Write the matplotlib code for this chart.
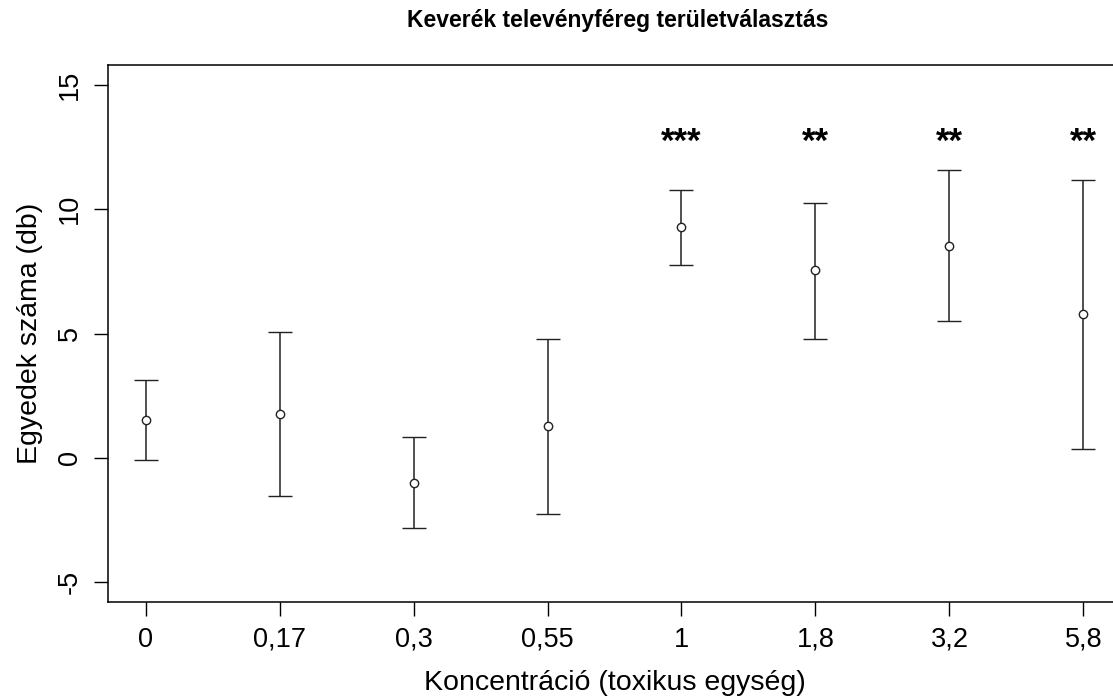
import matplotlib
matplotlib.use('Agg')
import matplotlib.pyplot as plt

plt.rcParams['font.family'] = ['Liberation Sans', 'DejaVu Sans']

# koncentrációk (toxikus egység) és a mért értékek
koncentracio = ['0', '0,17', '0,3', '0,55', '1', '1,8', '3,2', '5,8']
atlag = [1.53, 1.76, -1.01, 1.28, 9.27, 7.54, 8.50, 5.79]
also = [-0.08, -1.54, -2.81, -2.26, 7.74, 4.76, 5.50, 0.35]
felso = [3.12, 5.05, 0.83, 4.76, 10.78, 10.25, 11.56, 11.17]
szignifikancia = ['', '', '', '', '***', '**', '**', '**']
csillag_y = 12.3

x = list(range(1, len(koncentracio) + 1))
err_lo = [m - l for m, l in zip(atlag, also)]
err_hi = [u - m for m, u in zip(atlag, felso)]

fig = plt.figure(figsize=(11.13, 6.97), dpi=100)
ax = fig.add_axes([108 / 1113, 1 - 602 / 697, (1121 - 108) / 1113, (602 - 65) / 697])

ax.errorbar(x, atlag, yerr=[err_lo, err_hi], fmt='o', color='#222222',
            mfc='white', mec='#222222', ms=6, mew=1.0, elinewidth=1.1,
            capsize=8.7, capthick=1.1)

for xi, s in zip(x, szignifikancia):
    if s:
        ax.text(xi, csillag_y, s, ha='center', va='baseline', fontsize=25, fontweight='bold')

ax.set_xlim(0.72, 8.28)
ax.set_ylim(-5.8, 15.8)
ax.set_xticks(x)
ax.set_xticklabels(koncentracio, fontsize=19.5)
ax.set_yticks([-5, 0, 5, 10, 15])
ax.set_yticklabels(['-5', '0', '5', '10', '15'], fontsize=19.5, rotation=90, va='center')
ax.tick_params(length=10, width=1, pad=8)

for sp in ax.spines.values():
    sp.set_linewidth(1.1)

ax.set_xlabel('Koncentráció (toxikus egység)', fontsize=20.5, va='center')
ax.xaxis.set_label_coords(0.5, (602 - 683) / 537)
ax.set_ylabel('Egyedek száma (db)', fontsize=20.5, va='center')
ax.yaxis.set_label_coords((30 - 108) / 1013, 0.5)
fig.text(618 / 1113, 1 - 21 / 697, 'Keverék televényféreg területválasztás',
         ha='center', va='center', fontsize=16.5, fontweight='bold')

fig.savefig('out.png', dpi=100, facecolor='white')
